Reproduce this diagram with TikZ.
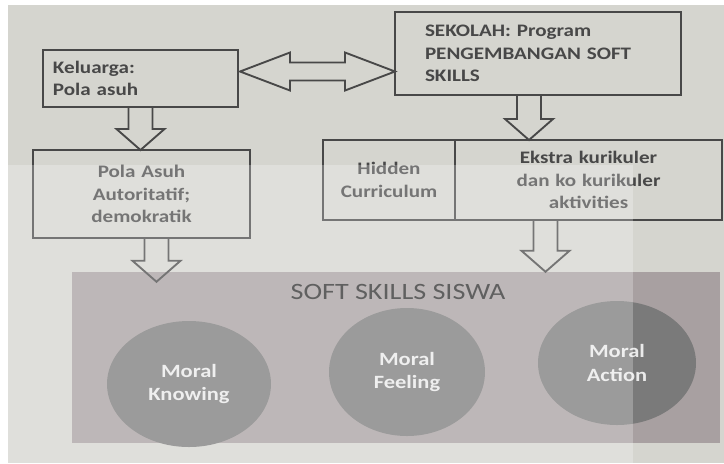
\documentclass[tikz,border=0pt]{standalone}
\usepackage{fontspec}
\setmainfont[FakeStretch=1.2]{Carlito}
\usetikzlibrary{positioning,calc,shapes.geometric}

\definecolor{paper}{RGB}{213,213,207}
\definecolor{ink}{RGB}{72,72,72}
\definecolor{band}{RGB}{168,160,161}
\definecolor{disc}{RGB}{122,122,122}
\definecolor{disctext}{RGB}{234,234,234}

\newdimen\px \px=0.03cm

\tikzset{
  box/.style={draw=ink, line width=1.8pt, text=ink, outer sep=0pt,
    font=\fontsize{15}{19}\selectfont\bfseries},
  hollow/.style={draw=ink, line width=1.6pt, line join=miter},
  moral/.style={ellipse, fill=disc, text=disctext, align=center, inner sep=0pt,
    font=\fontsize{16}{20}\selectfont\bfseries},
  judul/.style={text=ink!60!black, font=\fontsize{20}{24}\selectfont},
}

% block arrow pointing down, shaft from #1 to head tip #2
\newcommand\blockdown[2]{%
  \draw[hollow] ($(#1)+(-12,0)$) -- ($(#2)+(-12,-21)$) -- ($(#2)+(-24,-21)$)
    -- (#2) -- ($(#2)+(24,-21)$) -- ($(#2)+(12,-21)$) -- ($(#1)+(12,0)$);}
% block arrow with heads at both ends, tips #1 (left) and #2 (right)
\newcommand\blockboth[2]{%
  \draw[hollow] (#1) -- ($(#1)+(50,-19)$) -- ($(#1)+(50,-9)$) -- ($(#2)+(-50,-9)$)
    -- ($(#2)+(-50,-19)$) -- (#2) -- ($(#2)+(-50,19)$) -- ($(#2)+(-50,9)$)
    -- ($(#1)+(50,9)$) -- ($(#1)+(50,19)$) -- cycle;}

\begin{document}
\begin{tikzpicture}[x=0.03cm, y=-0.03cm]
  \useasboundingbox (0,0) rectangle (724,463);
  \fill[white] (0,0) rectangle (724,463);
  \fill[paper] (8,5) rectangle (724,463);

  \node[box, align=left, text width=175\px, inner xsep=10\px, minimum height=57\px] (keluarga) at (140.5,78.5) {Keluarga:\\Pola asuh};
  \node[box, align=left, text width=226\px, inner xsep=30\px, minimum height=83\px] (sekolah) at (538,53.5) {SEKOLAH: Program\\PENGEMBANGAN SOFT\\SKILLS};
  \node[box, align=center, text width=197\px, inner xsep=10\px, minimum height=88\px] (pola) at (141.5,194) {Pola Asuh\\Autoritatif;\\demokratik};
  \node[box, align=center, text width=112\px, inner xsep=10\px, minimum height=80\px] (hidden) at (389,180) {Hidden\\Curriculum};
  \node[box, align=center, text width=247\px, inner xsep=10\px, minimum height=80\px, right=0pt of hidden] (ekstra) {Ekstra kurikuler\\dan ko kurikuler\\aktivities};

  \node[fill=band, inner sep=0pt, minimum width=648\px, minimum height=171\px] (siswa) at (396,357.5) {};
  \node[judul] (judulsiswa) at (398,292) {SOFT SKILLS SISWA};
  \node[moral, minimum width=164\px, minimum height=126\px] (knowing) at (189,384) {Moral\\Knowing};
  \node[moral, minimum width=156\px, minimum height=128\px] (feeling) at (407,372) {Moral\\Feeling};
  \node[moral, minimum width=158\px, minimum height=124\px] (action) at (617,363) {Moral\\Action};

  \coordinate (dl) at ($(keluarga.east)+(2,-7)$);
  \coordinate (dr) at (sekolah.west |- dl);
  \blockboth{dl}{dr}

  \coordinate (ktip) at (keluarga.south |- pola.north);
  \blockdown{keluarga.south}{ktip}
  \coordinate (stop) at ($(sekolah.south)+(-9,0)$);
  \coordinate (stip) at (stop |- hidden.north);
  \blockdown{stop}{stip}
  \coordinate (ptop) at ($(pola.south)+(15,0)$);
  \coordinate (ptip) at ($(ptop |- siswa.north)+(0,10)$);
  \blockdown{ptop}{ptip}
  \coordinate (etop) at ($(ekstra.south)+(-43,0)$);
  \coordinate (etip) at (etop |- siswa.north);
  \blockdown{etop}{etip}

  \fill[white, opacity=.25] (8,165) rectangle (633,463);
\end{tikzpicture}
\end{document}
